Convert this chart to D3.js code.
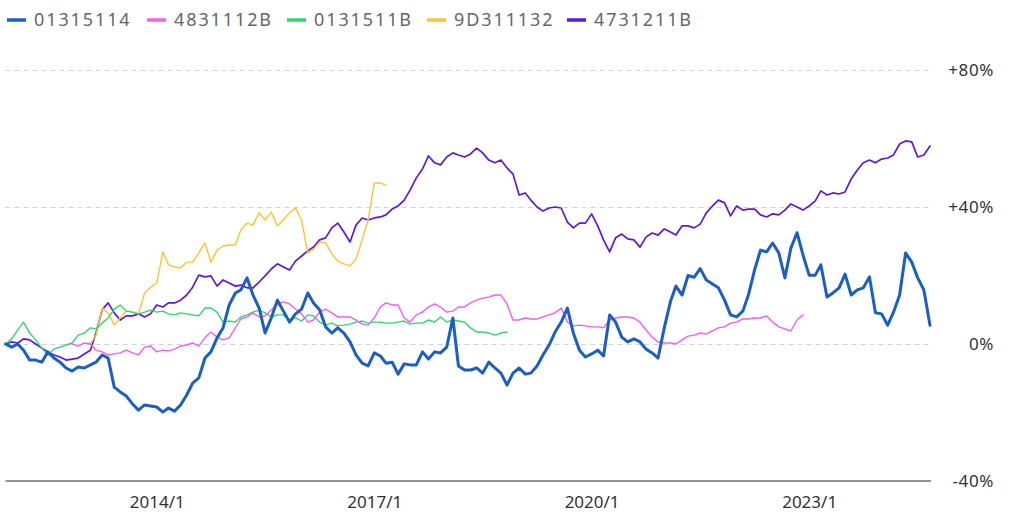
<!DOCTYPE html>
<html><head><meta charset="utf-8">
<script src="https://cdn.jsdelivr.net/npm/d3@7"></script>
<style>body{margin:0;background:#fff;} svg{display:block;}</style>
</head><body><svg id="c" width="1024" height="517"></svg>
<script>
// ---- data ----
const seriesNames = ["01315114", "4831112B", "0131511B", "9D311132", "4731211B"];
const seriesStarts = ["2011-12", "2012-11", "2011-12", "2013-02", "2011-12"]; // first month of each series
const yTicks = [-40, 0, 40, 80];
const xTickLabels = ["2014/1", "2017/1", "2020/1", "2023/1"];

const blueValues = [0,-0.9,0,-1.8,-4.7,-4.7,-5.3,-2.3,-4.1,-5.3,
 -7.0,-7.9,-6.7,-7.0,-6.1,-5.3,-3.2,-4.1,-12.6,-14.0,
 -15.2,-17.5,-19.3,-17.8,-18.1,-18.4,-19.9,-18.7,-19.6,-17.8,
 -14.9,-11.4,-9.9,-4.1,-2.3,1.8,4.7,11.4,14.9,15.8,
 19.3,14.3,10.5,3.2,7.6,12.8,9.6,6.4,8.8,10.2,
 14.9,12.0,9.9,5.0,3.2,4.7,3.2,0.6,-3.2,-5.6,
 -6.4,-2.6,-3.5,-5.6,-5.3,-8.8,-5.8,-6.1,-6.1,-2.3,
 -4.4,-2.3,-2.6,-0.9,7.6,-6.4,-7.6,-7.6,-7.0,-8.5,
 -5.3,-7.0,-8.5,-12.0,-8.5,-7.0,-8.8,-8.5,-6.4,-3.2,
 -0.3,3.5,6.4,10.5,3.2,-1.8,-3.8,-2.9,-1.8,-3.5,
 8.5,6.4,2.0,0.6,1.5,0.6,-1.5,-2.6,-4.1,4.7,
 12.3,16.9,14.3,20.0,19.5,22.0,18.7,17.5,16.4,12.8,
 8.5,7.9,9.6,14.3,21.6,27.4,26.9,29.5,26.6,19.3,
 28.0,32.5,26.0,20.1,20.1,23.1,13.7,14.9,16.4,20.4,
 14.3,15.8,16.4,19.6,9.1,8.8,5.5,9.3,14.3,26.6,
 23.9,19.3,15.8,5.5];

const magentaValues = [0,-0.6,0.3,0,-1.8,-2.3,-3.2,-2.9,-2.6,-1.8,
 -2.6,-3.2,-0.9,-0.6,-2.3,-1.8,-2.0,-1.5,-0.6,-0.3,
 0.3,-0.6,1.8,3.5,2.0,1.2,1.8,4.7,7.3,7.9,
 9.1,7.9,8.2,9.9,11.7,12.3,11.7,10.2,8.8,6.4,
 7.0,9.3,10.2,9.1,7.9,7.9,7.9,7.0,5.8,5.5,
 7.6,10.8,12.0,11.4,11.4,7.6,6.4,8.5,9.3,10.8,
 11.7,10.8,9.3,9.6,10.8,10.8,12.0,12.8,13.4,13.7,
 14.3,14.3,11.7,7.0,7.0,7.6,7.3,7.3,7.9,8.5,
 9.1,10.5,6.4,5.3,5.5,5.3,5.0,5.0,4.7,7.0,
 7.6,7.9,7.9,7.6,6.4,4.1,2.0,0.6,0.3,0.3,
 0,1.2,2.3,2.6,3.2,2.9,3.8,4.7,5.0,6.1,
 6.4,7.3,7.3,7.6,7.6,8.2,6.4,5.0,4.4,3.8,
 7.0,8.5];

const greenValues = [0,1.5,4.1,6.4,3.2,1.2,-1.2,-3.2,-1.5,-0.9,
 -0.3,0.3,2.6,3.2,4.7,4.4,6.1,7.6,10.2,11.4,
 9.6,9.3,8.8,9.3,9.9,9.3,9.6,8.8,8.5,9.1,
 8.8,8.5,8.2,10.5,10.5,9.3,6.4,6.7,6.4,7.9,
 8.5,9.3,9.9,9.1,7.9,8.5,8.5,6.7,7.6,6.7,
 8.5,8.2,6.4,5.5,6.1,5.3,5.5,5.8,6.4,6.7,
 6.1,6.4,6.4,6.1,6.1,6.4,6.7,5.8,6.1,6.1,
 7.0,6.4,7.9,6.4,7.0,6.7,6.4,4.7,3.5,3.5,
 3.2,2.6,3.2,3.5];

const orangeValues = [0,2.6,10.5,9.1,5.5,7.6,9.6,9.3,8.8,14.9,
 16.6,17.8,26.9,23.1,22.5,22.2,23.9,23.9,26.6,29.5,
 23.9,27.4,28.6,28.9,28.9,33.3,35.3,34.7,38.3,36.2,
 38.5,34.5,36.2,38.3,39.7,36.2,26.6,27.7,29.8,29.5,
 26.3,24.2,23.4,22.8,24.8,30.4,36.2,47.0,47.0,46.4];

const purpleValues = [0,0.6,0.3,1.5,1.2,0,-1.2,-2.3,-3.2,-3.8,
 -4.7,-4.4,-4.1,-2.9,-1.8,3.2,10.0,12.0,9.1,7.0,
 8.2,8.2,8.8,7.9,8.8,11.4,10.8,12.0,12.0,12.8,
 14.3,16.6,20.1,19.6,19.9,16.9,18.7,17.8,16.9,17.2,
 16.4,16.4,18.1,19.9,21.9,23.4,22.5,21.6,24.2,25.7,
 27.2,28.3,30.4,31.0,33.9,35.3,32.7,29.8,34.7,36.8,
 36.2,36.8,37.1,37.7,39.4,40.3,42.0,45.0,48.5,51.1,
 54.9,52.9,52.3,54.6,55.8,55.2,54.6,55.5,57.2,55.8,
 53.7,52.9,53.7,51.4,49.6,43.5,44.1,42.0,40.0,38.8,
 39.7,40.0,39.7,35.6,33.9,35.3,35.3,38.0,34.5,30.4,
 26.9,31.0,32.1,30.7,30.4,28.3,31.2,32.4,31.8,33.6,
 32.7,31.8,34.5,34.5,33.9,35.0,38.3,40.3,42.0,41.2,
 37.4,40.3,39.1,39.4,39.4,37.7,37.1,38.0,37.7,39.1,
 40.9,40.0,39.1,40.3,41.8,44.7,43.5,44.1,43.8,44.4,
 48.2,50.8,52.9,53.7,52.9,54.0,54.3,55.2,58.4,59.3,
 59.0,54.6,55.2,57.8];

// ---- styles ----
const seriesColors = ["#1b5ec4", "#f25ef2", "#2fd66e", "#ffc233", "#5f17d8"];
const seriesStroke = [3, 1.4, 1.4, 1.4, 1.7];

const allValues = [blueValues, magentaValues, greenValues, orangeValues, purpleValues];
const parseMonth = d3.timeParse("%Y-%m");
const series = seriesNames.map((name, i) => {
  const start = parseMonth(seriesStarts[i]);
  return {name, color: seriesColors[i], width: seriesStroke[i],
    points: allValues[i].map((v, k) => ({date: d3.timeMonth.offset(start, k), value: v}))};
});

const svg = d3.select("#c");
const x = d3.scaleTime().domain([new Date(2011, 11, 1), new Date(2024, 8, 6)]).range([5.5, 931]);
const y = d3.scaleLinear().domain([-40, 80]).range([481, 70]);

// grid
svg.append("g").selectAll("line").data(yTicks.filter(t => t > -40)).join("line")
  .attr("x1", x.range()[0]).attr("x2", x.range()[1])
  .attr("y1", d => Math.round(y(d)) + 0.5).attr("y2", d => Math.round(y(d)) + 0.5)
  .attr("stroke", "#d3d3d3").attr("stroke-width", 1).attr("stroke-dasharray", "5,4");
svg.append("line").attr("x1", x.range()[0]).attr("x2", x.range()[1])
  .attr("y1", y(-40)).attr("y2", y(-40)).attr("stroke", "#6f6f6f").attr("stroke-width", 1.5);

// lines (first series on top)
const line = d3.line().x(d => x(d.date)).y(d => y(d.value));
svg.append("g").selectAll("path").data(series.slice().reverse()).join("path")
  .attr("d", d => line(d.points)).attr("fill", "none")
  .attr("stroke", d => d.color).attr("stroke-width", d => d.width)
  .attr("stroke-linejoin", "round").attr("stroke-linecap", "round");

// x axis
const xTickDates = xTickLabels.map(s => d3.timeParse("%Y/%m")(s));
const xAxis = d3.axisBottom(x).tickValues(xTickDates).tickSize(0).tickPadding(15)
  .tickFormat((d, i) => xTickLabels[i]);
const gx = svg.append("g").attr("transform", `translate(0,${y(-40)})`).call(xAxis);
gx.select(".domain").remove();
gx.selectAll("text").attr("font-family", "'Noto Sans', 'Liberation Sans', sans-serif")
  .attr("font-size", 17).attr("fill", "#333");

// y axis on right
const yAxis = d3.axisRight(y).tickValues(yTicks).tickSize(0).tickPadding(0)
  .tickFormat(d => (d > 0 ? "+" : "") + d + "%");
const gy = svg.append("g").attr("transform", "translate(994,0)").call(yAxis);
gy.select(".domain").remove();
gy.selectAll("text").attr("text-anchor", "end").attr("x", 0)
  .attr("font-family", "'Noto Sans', 'Liberation Sans', sans-serif")
  .attr("font-size", 17).attr("letter-spacing", 0.6).attr("fill", "#333");

// legend
const lg = svg.append("g").selectAll("g").data(series).join("g")
  .attr("transform", (d, i) => `translate(${7 + 140 * i},20)`);
lg.append("line").attr("x1", 0).attr("x2", 19).attr("y1", 0).attr("y2", 0)
  .attr("stroke", d => d.color).attr("stroke-width", 3.5);
lg.append("text").attr("x", 27).attr("dy", "0.36em").text(d => d.name)
  .attr("font-family", "'Noto Sans', 'Liberation Sans', sans-serif")
  .attr("font-size", 18).attr("letter-spacing", 1.9).attr("fill", "#666");
</script>
</body></html>
